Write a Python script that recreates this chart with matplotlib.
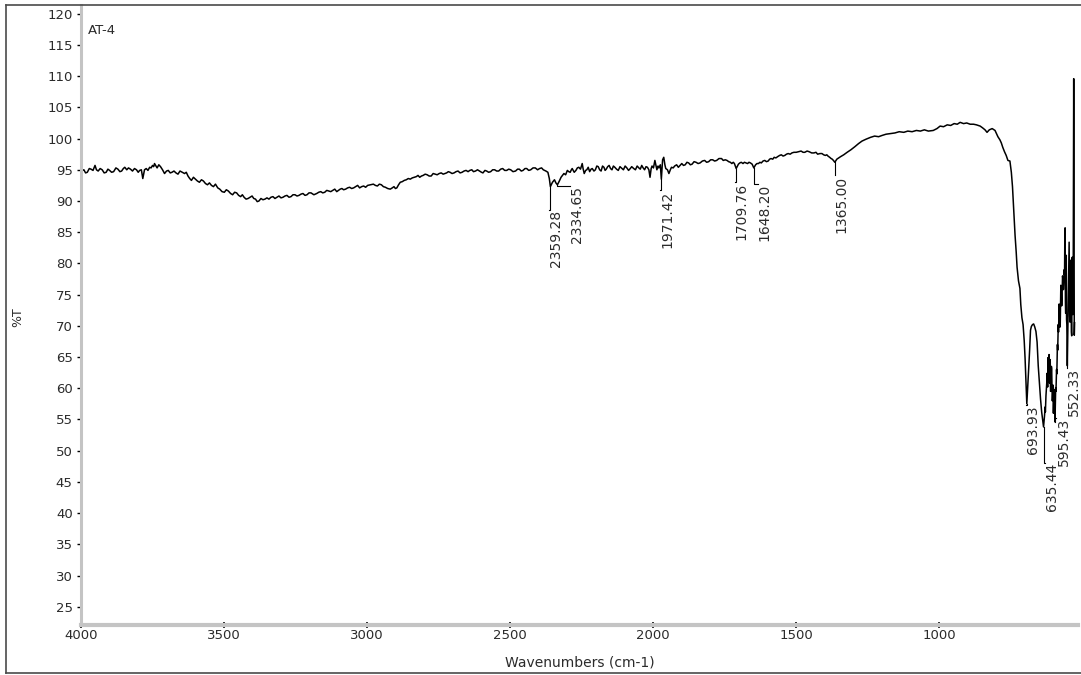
import matplotlib.pyplot as plt
from matplotlib.lines import Line2D
from matplotlib.ticker import MultipleLocator

# spectrum, high wavenumber side first
wn_left = [4000, 3995, 3990, 3984, 3978, 3971, 3965, 3958, 3951, 3946, 3940, 3933, 3926, 3919,
           3912, 3906, 3900, 3893, 3886, 3878, 3871, 3864, 3858, 3852, 3847, 3840, 3834, 3827,
           3820, 3813, 3806, 3800, 3795, 3789, 3784, 3778, 3772, 3766, 3760, 3755, 3750, 3746,
           3743, 3738, 3734, 3728, 3722, 3715, 3708, 3701, 3695, 3688, 3682, 3675, 3668, 3661,
           3654, 3646, 3638, 3632, 3626, 3620, 3614, 3607, 3600, 3593, 3586, 3579, 3572, 3565,
           3558, 3551, 3544, 3537, 3530, 3522, 3515, 3507, 3499, 3492, 3485, 3477, 3470, 3463,
           3456, 3449, 3442, 3436, 3430, 3423, 3416, 3409, 3402, 3396, 3390, 3384, 3378, 3371,
           3364, 3357, 3350, 3343, 3336, 3329, 3322, 3315, 3308, 3301, 3294, 3287, 3280, 3273,
           3266, 3259, 3252, 3245, 3238, 3231, 3224, 3217, 3210, 3203, 3196, 3186, 3176, 3169,
           3162, 3155, 3148, 3141, 3134, 3127, 3120, 3113, 3106, 3100, 3094, 3088, 3082, 3075,
           3068, 3061, 3054, 3047, 3040, 3033, 3026, 3019, 3012, 3005, 2998, 2988, 2978, 2971,
           2964, 2957, 2950, 2943, 2936, 2928, 2919, 2912, 2906, 2901, 2896, 2890, 2884, 2877,
           2870, 2863, 2856, 2849, 2842, 2835, 2828, 2822, 2816, 2810, 2804, 2797, 2790, 2783,
           2776, 2769, 2762, 2755, 2748, 2741, 2734, 2728, 2722, 2716, 2710, 2703, 2696, 2689,
           2682, 2675, 2668, 2661, 2654, 2647, 2641, 2634, 2628, 2621, 2614, 2607, 2600, 2595,
           2588, 2582, 2575, 2568, 2561, 2554, 2547, 2540, 2533, 2526, 2519, 2512, 2505, 2498,
           2490, 2481, 2474, 2468, 2461, 2455, 2448, 2442, 2435, 2428, 2420, 2412, 2404, 2397,
           2390, 2384, 2375]
t_left = [94.4, 94.9, 95.0, 94.5, 94.6, 95.2, 95.1, 94.9, 95.7, 95.0, 94.8, 95.2, 95.0, 94.5,
          94.6, 95.1, 94.9, 94.6, 94.7, 95.3, 95.1, 94.7, 94.8, 95.2, 95.4, 95.0, 95.3, 95.1,
          94.8, 95.2, 95.0, 94.6, 94.9, 95.0, 93.6, 95.0, 95.2, 94.9, 95.4, 95.3, 95.7, 95.5,
          96.0, 95.6, 95.3, 95.8, 95.5, 95.0, 94.4, 94.8, 94.9, 94.5, 94.6, 94.8, 94.5, 94.3,
          94.8, 94.6, 94.4, 94.6, 94.0, 93.6, 93.3, 93.8, 93.5, 93.2, 93.0, 93.4, 93.2, 92.8,
          92.6, 92.9, 92.5, 92.3, 92.7, 92.1, 91.9, 91.5, 91.4, 91.8, 91.6, 91.2, 91.0, 91.4,
          91.3, 90.9, 90.7, 91.0, 90.6, 90.3, 90.4, 90.6, 90.8, 90.4, 90.3, 89.9, 90.0, 90.4,
          90.2, 90.3, 90.5, 90.3, 90.6, 90.7, 90.4, 90.6, 90.8, 90.5, 90.6, 90.8, 90.9, 90.6,
          90.7, 91.0, 91.0, 90.8, 90.9, 91.1, 91.2, 90.9, 91.0, 91.3, 91.3, 91.0, 91.2, 91.4,
          91.5, 91.3, 91.4, 91.7, 91.6, 91.5, 91.7, 91.9, 91.5, 91.7, 91.9, 92.0, 91.8, 91.9,
          92.1, 92.2, 92.0, 92.1, 92.3, 92.5, 92.1, 92.3, 92.4, 92.2, 92.5, 92.6, 92.7, 92.5,
          92.4, 92.7, 92.6, 92.3, 92.2, 92.0, 91.9, 92.1, 92.3, 92.0, 92.1, 92.6, 93.0, 93.1,
          93.3, 93.4, 93.6, 93.5, 93.7, 93.8, 93.9, 94.1, 93.8, 94.0, 94.1, 94.3, 94.2, 94.0,
          94.0, 94.4, 94.3, 94.2, 94.4, 94.5, 94.3, 94.4, 94.5, 94.7, 94.6, 94.4, 94.5, 94.7,
          94.8, 94.5, 94.6, 94.8, 94.9, 94.7, 94.9, 95.0, 94.7, 94.8, 95.0, 94.8, 94.6, 94.5,
          94.9, 94.8, 94.6, 94.7, 95.0, 95.0, 94.8, 94.8, 95.1, 95.2, 94.9, 94.9, 95.1, 95.0,
          94.7, 94.8, 95.1, 95.1, 94.8, 94.9, 95.2, 95.2, 94.9, 95.0, 95.3, 95.3, 95.0, 95.2,
          95.3, 95.0, 94.8]

wn_mid = [2368, 2363, 2359.28, 2352, 2345, 2340, 2334.65, 2328, 2322, 2317, 2312, 2306, 2300,
          2295, 2290, 2286, 2283, 2276, 2270, 2265, 2260, 2254, 2248, 2245, 2241, 2236, 2232,
          2227, 2222, 2217, 2213, 2207, 2202, 2197, 2192, 2187, 2182, 2177, 2172, 2168, 2164,
          2159, 2154, 2149, 2144, 2139, 2134, 2128, 2122, 2116, 2109, 2104, 2098, 2092, 2086,
          2080, 2075, 2068, 2062, 2056, 2050, 2045, 2040, 2035, 2030, 2025, 2020, 2015, 2011,
          2007, 2004, 1999, 1994, 1990, 1987, 1983, 1980, 1975, 1971.42, 1967, 1963, 1959, 1956,
          1950, 1945, 1940, 1936, 1930, 1925, 1918, 1912, 1906, 1900, 1894, 1888, 1882, 1876,
          1870, 1864, 1857, 1850, 1843, 1836, 1828, 1820, 1813, 1806, 1799, 1792, 1785, 1778,
          1770, 1761, 1755, 1748, 1742, 1736, 1730, 1725, 1720, 1716, 1709.76, 1702, 1697, 1692,
          1686, 1681, 1675, 1670, 1665, 1660, 1654, 1648.20, 1642, 1637, 1632, 1627, 1622, 1616,
          1610, 1604, 1598, 1593, 1588, 1582, 1577, 1571, 1565, 1558, 1552, 1546, 1540, 1534,
          1528, 1521, 1515, 1508, 1500, 1492, 1483, 1476, 1470, 1462, 1455, 1446, 1438, 1431,
          1425, 1417, 1410, 1404, 1398, 1393, 1389, 1383, 1378, 1374, 1370, 1365.00, 1358, 1345,
          1334, 1322, 1309, 1295, 1282, 1270, 1256, 1240, 1226, 1212, 1200, 1186, 1170, 1155,
          1140, 1124, 1110, 1095, 1080, 1066, 1052, 1038, 1021, 1008, 997, 985, 972, 960, 948,
          937, 927, 915, 904, 892, 880, 870, 857, 848, 840, 833, 825, 815, 805, 800, 795, 788,
          783, 778]
t_mid = [94.6, 93.6, 92.3, 93.0, 93.4, 92.9, 92.6, 93.2, 93.8, 94.1, 94.4, 94.2, 94.9,
         94.7, 94.6, 95.0, 95.2, 94.6, 94.9, 95.3, 95.4, 95.1, 96.0, 95.2, 94.4, 94.9, 95.0,
         95.4, 94.7, 95.1, 95.2, 94.8, 95.0, 95.6, 95.5, 95.0, 94.8, 95.6, 95.4, 94.9, 95.1,
         95.5, 95.7, 95.2, 95.0, 95.6, 95.4, 95.1, 94.9, 95.5, 95.2, 95.0, 95.6, 95.3, 94.9,
         95.2, 95.5, 95.2, 95.0, 95.6, 95.3, 95.1, 95.7, 95.3, 95.0, 95.5, 95.4, 95.0, 93.8,
         95.2, 95.6, 95.3, 96.5, 95.6, 95.0, 95.6, 95.3, 95.8, 93.5, 96.6, 97.0, 95.8, 95.2,
         95.0, 94.4, 95.0, 95.4, 95.3, 95.6, 95.8, 95.4, 95.7, 96.0, 95.7, 95.8, 96.2, 96.1,
         95.8, 95.9, 96.3, 96.2, 96.0, 96.1, 96.4, 96.5, 96.2, 96.3, 96.6, 96.6, 96.4, 96.5,
         96.8, 96.8, 96.5, 96.6, 96.5, 96.3, 96.2, 96.0, 96.2, 96.0, 95.2, 95.9, 96.1, 96.2,
         96.0, 96.2, 96.1, 96.0, 96.2, 96.1, 95.9, 95.3, 95.8, 96.0, 96.0, 96.2, 96.1, 96.4,
         96.5, 96.3, 96.4, 96.7, 96.8, 96.7, 97.0, 96.9, 97.1, 97.3, 97.4, 97.2, 97.3, 97.5,
         97.6, 97.5, 97.7, 97.8, 97.8, 97.9, 98.0, 97.8, 97.8, 98.0, 97.9, 97.7, 97.7, 97.8,
         97.5, 97.6, 97.6, 97.4, 97.3, 97.4, 97.2, 97.0, 96.8, 96.7, 96.5, 96.2, 96.7, 97.1,
         97.4, 97.8, 98.2, 98.7, 99.2, 99.6, 99.9, 100.2, 100.4, 100.3, 100.5, 100.7, 100.8, 100.9,
         101.1, 101.0, 101.2, 101.1, 101.3, 101.2, 101.4, 101.2, 101.3, 101.6, 102.0, 101.9, 102.2, 102.1, 102.4,
         102.3, 102.6, 102.4, 102.5, 102.3, 102.3, 102.2, 102.0, 101.7, 101.4, 101.0, 101.4, 101.6, 101.3, 100.8, 100.3, 99.8,
         99.3, 98.6]

wn_fp = [772, 766, 760, 753, 748, 744, 741, 738, 735, 731, 728, 723, 718, 715, 711, 707, 703,
         700, 697, 693.93, 690, 687, 684, 681, 678, 674, 670, 666, 662, 658, 654, 650, 646, 642,
         638, 635.44, 632, 630, 629, 627, 626, 624, 623, 621, 620, 619, 618, 617, 616, 615,
         614, 613, 612, 611, 610, 608, 607, 605, 604, 602, 601, 599, 598, 595.43, 593, 592,
         590, 589, 587, 586, 584, 583, 581, 580, 578, 577, 575, 574, 572, 571, 569, 568, 566,
         565, 563, 562, 561, 560, 559, 558, 557, 556, 555, 554, 552.33, 551, 549, 547, 546,
         544, 543, 541, 540, 538, 537, 536, 535, 533, 532, 530, 528, 527]
t_fp = [97.9, 97.3, 96.5, 96.4, 94.6, 92.3, 89.6, 86.8, 84.5, 81.8, 79.4, 77.2, 76.0, 73.4,
        71.3, 70.2, 67.6, 64.8, 61.4, 57.5, 60.8, 63.5, 66.2, 69.3, 69.9, 70.2, 70.3, 69.8,
        69.1, 67.4, 63.6, 61.0, 58.3, 56.2, 54.8, 53.8, 55.6, 57.0, 56.2, 58.8, 59.5, 61.0,
        62.4, 60.2, 64.9, 62.0, 61.6, 64.8, 65.4, 61.0, 60.8, 64.6, 64.2, 59.5, 59.7, 63.5,
        63.1, 58.0, 58.2, 60.5, 56.0, 59.8, 58.9, 54.6, 60.1, 59.5, 63.0, 62.3, 67.0, 66.1,
        70.2, 69.0, 73.5, 72.8, 69.8, 70.5, 76.5, 76.0, 73.2, 74.2, 78.0, 77.5, 75.8, 76.4,
        79.0, 78.2, 84.5, 85.7, 74.0, 72.0, 80.0, 81.3, 71.0, 70.2, 63.6, 68.0, 74.5, 82.0,
        83.4, 71.5, 70.6, 80.5, 79.8, 69.0, 68.4, 80.2, 81.0, 71.8, 72.5, 109.6, 68.5, 70.5]

wavenumber = wn_left + wn_mid + wn_fp
transmittance = t_left + t_mid + t_fp

peaks = [2359.28, 2334.65, 1971.42, 1709.76, 1648.20, 1365.00, 693.93, 635.44, 595.43, 552.33]

# label placement: top of text (%T) and shift right of the peak (pixels)
label_top = [88.5, 92.4, 91.7, 93.0, 92.8, 94.1, 57.3, 48.1, 55.2, 63.2]
label_dx = [-1.5, 13, -1, -1.5, 4, 0, -1, 1.5, 1.5, 0]

W, H = 1081, 675
ax_l, ax_r, ax_t, ax_b = 81, 1078, 5, 625
XMAX, XMIN = 4000, 515
text_col = '#2b2b2b'

fig = plt.figure(figsize=(W / 100, H / 100), dpi=100)
ax = fig.add_axes([ax_l / W, 1 - ax_b / H, (ax_r - ax_l) / W, (ax_b - ax_t) / H])

ax.plot(wavenumber, transmittance, color='black', lw=1.1)
ax.set_xlim(XMAX, XMIN)
ax.set_ylim(22.07, 121.4)

wn_per_px = (XMAX - XMIN) / (ax_r - ax_l)
for p, top, dx in zip(peaks, label_top, label_dx):
    t_peak = transmittance[wavenumber.index(p)]
    x_txt = p - dx * wn_per_px
    ax.plot([p, p, x_txt], [t_peak, top, top], color='black', lw=0.8)
    ax.text(x_txt, top, '%.2f' % p, rotation=90, ha='left', va='top',
            fontsize=10, color=text_col)

# axes look of the instrument software
for s in ['top', 'right']:
    ax.spines[s].set_visible(False)
ax.spines['left'].set_color('#c4c4c4')
ax.spines['left'].set_linewidth(2.2)
ax.spines['bottom'].set_color('#c4c4c4')
ax.spines['bottom'].set_linewidth(3.0)

ax.xaxis.set_major_locator(MultipleLocator(500))
ax.xaxis.set_minor_locator(MultipleLocator(100))
ax.yaxis.set_minor_locator(MultipleLocator(1))
ax.set_yticks(range(25, 121, 5))

ax.tick_params(axis='y', which='major', direction='out', length=3, width=1,
               color='black', pad=3, labelsize=9.5, labelcolor=text_col)
ax.tick_params(axis='y', which='minor', direction='inout', length=1.5, width=1.2,
               color='black')
ax.tick_params(axis='x', which='major', direction='inout', length=4, width=1.2,
               color='black', pad=1, labelsize=9.5, labelcolor=text_col)
ax.tick_params(axis='x', which='minor', direction='inout', length=1.5, width=1.2,
               color='black')

fig.text(18 / W, 1 - 317 / H, '%T', rotation=90, ha='center', va='center',
         fontsize=9, color=text_col)
fig.text((ax_l + ax_r) / 2 / W, 1 - 662 / H, 'Wavenumbers (cm-1)', ha='center',
         va='center', fontsize=10, color=text_col)
fig.text(88 / W, 1 - 31 / H, 'AT-4', ha='left', va='center', fontsize=9.5,
         color=text_col)

# frame round the printout: left, top and bottom edges only
x0, y0, y1 = 5.5 / W, 1 - 673 / H, 1 - 4.5 / H
for xs, ys in [([x0, x0], [y0, y1]), ([x0, 1], [y1, y1]), ([x0, 1], [y0, y0])]:
    fig.add_artist(Line2D(xs, ys, transform=fig.transFigure, color='#4a4a4a', lw=1.2))

fig.savefig('out.png', dpi=100)
